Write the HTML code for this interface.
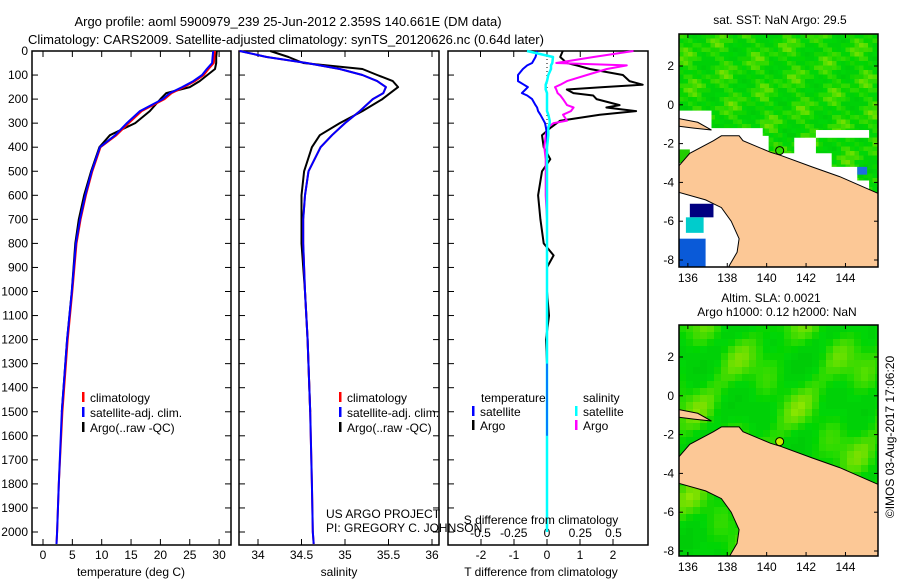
<!DOCTYPE html>
<html><head><meta charset="utf-8">
<style>
html,body{margin:0;padding:0;background:#fff;}
svg{display:block;font-family:"Liberation Sans",sans-serif;}
text{font-size:12px;fill:#000;}
</style></head>
<body>
<svg id="fig" width="900" height="580" viewBox="0 0 900 580" xmlns="http://www.w3.org/2000/svg">
<text x="288" y="26" text-anchor="middle" style="font-size:13px">Argo profile: aoml 5900979_239 25-Jun-2012 2.359S 140.661E (DM data)</text>
<text x="286" y="44" text-anchor="middle" style="font-size:13px">Climatology: CARS2009. Satellite-adjusted climatology: synTS_20120626.nc (0.64d later)</text>
<g id="g"></g>
</svg>
<script>
// ---- data ----
const depths = [0,25,50,75,100,125,150,175,200,250,300,350,400,500,600,700,800,1000,1200,1500,1800,2000,2050];
const tempClim = [29.3,29.2,29.1,28.2,27.4,25.9,24.0,21.9,20.7,16.8,14.6,12.5,9.8,8.4,7.3,6.4,5.7,5.0,4.2,3.3,2.7,2.4,2.3];
const tempSat  = [29.0,28.9,28.8,27.9,27.1,25.6,23.7,21.6,20.4,16.5,14.3,12.3,9.7,8.3,7.2,6.3,5.6,4.9,4.1,3.2,2.7,2.4,2.3];
const tempArgo = [29.6,29.5,29.5,29.3,28.0,26.7,25.0,21.0,20.0,18.2,15.7,11.4,9.6,8.2,7.0,6.1,5.5,4.9,4.1,3.2];
const salClim = [33.79,34.1,34.56,34.94,35.2,35.37,35.47,35.44,35.32,35.17,35.0,34.85,34.72,34.58,34.54,34.52,34.52,34.54,34.57,34.6,34.62,34.63,34.64];
const salSat  = [33.79,34.1,34.56,34.94,35.2,35.37,35.47,35.44,35.32,35.17,35.0,34.85,34.72,34.58,34.54,34.52,34.52,34.54,34.57,34.6,34.62,34.63,34.64];
const salArgo = [34.14,34.35,34.52,35.2,35.37,35.55,35.61,35.52,35.43,35.2,34.94,34.71,34.62,34.53,34.5,34.5,34.5,34.54,34.57,34.6];
const diffDepths = [0,25,50,60,75,100,125,140,150,160,175,185,200,225,235,250,265,290,300,320,350,400,450,500,600,700,800,850,900,1000,1100,1200,1300];
const tDiffSat  = [-0.3,-0.35,-0.45,-0.6,-0.73,-0.88,-0.88,-0.7,-0.58,-0.65,-0.76,-0.6,-0.45,-0.35,-0.3,-0.27,-0.2,-0.1,-0.06,-0.03,0,0,0,0,0,0,0,0,0,0,0,0,0];
const tDiffArgo = [0.48,0.4,0.6,0.9,1.3,2.3,2.5,2.9,1.7,0.6,0.8,1.4,1.5,2.2,1.8,2.7,1.6,0.4,0.3,0.1,-0.15,-0.1,0.1,-0.15,-0.27,-0.2,-0.1,0.2,0.0,0.0,0.06,-0.03,0.0];
const sDiffSat  = [-0.15,0.045,0.04,0.03,0.03,0.01,0.0,-0.01,-0.01,-0.01,0.0,0.0,0.0,0.0,0.0,0.0,0.01,0.02,0.02,0.01,0.01,0,0,0,0,0,0,0,0,0,0,0,0];
const sDiffArgo = [0.65,0.35,0.07,0.6,0.45,0.3,0.15,0.1,0.06,0.07,0.08,0.1,0.12,0.15,0.2,0.18,0.12,0.15,0.05,0.0,-0.01,-0.02,-0.01,-0.01,-0.01,0.0,0.0,0.0,0.0,0.0,0.0,0.0,0.0];
const depthTicks = [0,100,200,300,400,500,600,700,800,900,1000,1100,1200,1300,1400,1500,1600,1700,1800,1900,2000];
const tempTicks = [0,5,10,15,20,25,30];
const salTicks = [34,34.5,35,35.5,36];
const tdTicks = [-2,-1,0,1,2];
const sdTicks = [-0.5,-0.25,0,0.25,0.5];
const sdTickLabels = ["-0.5","-0.25","0","0.25","0.5"];
const lonTicks = [136,138,140,142,144];
const latTicks = [2,0,-2,-4,-6,-8];

const NS="http://www.w3.org/2000/svg";
const G=document.getElementById('g');
function el(tag,attrs,parent,txt){const e=document.createElementNS(NS,tag);for(const k in attrs)e.setAttribute(k,attrs[k]);if(txt!==undefined)e.textContent=txt;(parent||G).appendChild(e);return e;}

const Y0=51, YS=0.2405;
const yD=d=>Y0+d*YS;
const PT=51,PB=545;
function panel(name){
  const g=el('g',{});
  
  
  return g;
}
function frame(g,x0,x1){
  const r=el('rect',{x:x0,y:PT,width:x1-x0,height:PB-PT,fill:'none',stroke:'#000','stroke-width':1.5},g);
  
  depthTicks.forEach(d=>{
    el('line',{x1:x0,x2:x0+6,y1:yD(d),y2:yD(d),stroke:'#000'},g);
    el('line',{x1:x1-6,x2:x1,y1:yD(d),y2:yD(d),stroke:'#000'},g);
  });
}
function line(g,xs,ys,fx,color,w,name){
  const pts=xs.map((v,i)=>fx(v).toFixed(1)+','+yD(ys[i]).toFixed(1)).join(' ');
  const p=el('polyline',{points:pts,fill:'none',stroke:color,'stroke-width':w,'stroke-linejoin':'round'},g);
  
}
function xticks(g,ticks,labels,fx,ylab){
  ticks.forEach((t,i)=>{
    const x=fx(t);
    el('line',{x1:x,x2:x,y1:PB,y2:PB-6,stroke:'#000'},g);
    el('line',{x1:x,x2:x,y1:PT,y2:PT+6,stroke:'#000'},g);
    const tx=el('text',{x:x,y:ylab,'text-anchor':'middle'},g,labels[i]);
    
  });
}
function legend(g,x,y,color,label){
  el('rect',{x:x,y:y-6,width:2.5,height:10,fill:color},g);
  const t=el('text',{x:x+8,y:y+4},g,label);
  
}

depthTicks.forEach(d=>{
  const t=el('text',{x:28,y:yD(d)+4,'text-anchor':'end'},G,String(d));
  
});

{const x0=32,x1=231;const fx=t=>43+t*5.87;
 const g=panel('temperature-panel');frame(g,x0,x1);
 xticks(g,tempTicks,tempTicks.map(String),fx,559);
 line(g,tempArgo,depths.slice(0,tempArgo.length),fx,'#000',2,'argo-temperature-line');
 line(g,tempClim,depths,fx,'#f00',2,'climatology-temperature-line');
 line(g,tempSat,depths,fx,'#00f',2,'satellite-temperature-line');
 const tt=el('text',{x:131,y:576,'text-anchor':'middle'},g,'temperature (deg C)');
 
 legend(g,82,398,'#f00','climatology');legend(g,82,413,'#00f','satellite-adj. clim.');legend(g,82,428,'#000','Argo(..raw -QC)');
}
{const x0=239,x1=439;const fx=s=>258+(s-34)*87;
 const g=panel('salinity-panel');frame(g,x0,x1);
 xticks(g,salTicks,salTicks.map(String),fx,559);
 line(g,salArgo,depths.slice(0,salArgo.length),fx,'#000',2,'argo-salinity-line');
 line(g,salClim,depths,fx,'#f00',2,'climatology-salinity-line');
 line(g,salSat,depths,fx,'#00f',2,'satellite-salinity-line');
 const tt=el('text',{x:339,y:576,'text-anchor':'middle'},g,'salinity');
 
 legend(g,339,398,'#f00','climatology');legend(g,339,413,'#00f','satellite-adj. clim.');legend(g,339,428,'#000','Argo(..raw -QC)');
 const a=el('text',{x:326,y:518},g,'US ARGO PROJECT');
 const b=el('text',{x:326,y:532},g,'PI: GREGORY C. JOHNSON');
}
{const x0=448,x1=648;const ft=v=>547+v*33;const fs=v=>547+v*133;
 const g=panel('difference-panel');
 const r=el('rect',{x:x0,y:PT,width:x1-x0,height:PB-PT,fill:'none',stroke:'#000','stroke-width':1.5},g);
 
 depthTicks.forEach(d=>{el('line',{x1:x0,x2:x0+6,y1:yD(d),y2:yD(d),stroke:'#000'},g);});
 tdTicks.forEach(t=>{const x=ft(t);el('line',{x1:x,x2:x,y1:PB,y2:PB-6,stroke:'#000'},g);
   const tx=el('text',{x:x,y:559,'text-anchor':'middle'},g,String(t));});
 sdTicks.forEach((t,i)=>{const x=fs(t);el('line',{x1:x,x2:x,y1:PT,y2:PT+6,stroke:'#000'},g);
   const tx=el('text',{x:x,y:537,'text-anchor':'middle'},g,sdTickLabels[i]);});
 el('line',{x1:547,x2:547,y1:PT,y2:yD(350),stroke:'#000','stroke-dasharray':'1,3'},g);
 line(g,tDiffArgo,diffDepths,ft,'#000',2,'argo-temperature-diff-line');
 line(g,sDiffArgo,diffDepths,fs,'#f0f',2,'argo-salinity-diff-line');
 line(g,tDiffSat,diffDepths,ft,'#00f',2,'satellite-temperature-diff-line');
 line(g,sDiffSat.concat([0,0]),diffDepths.concat([1600,2000]),fs,'#0ff',2.5,'satellite-salinity-diff-line');
 line(g,[0,0],[1300,1600],ft,'#00f',1,'satellite-temperature-diff-deep');
 const s1=el('text',{x:541,y:524,'text-anchor':'middle'},g,'S difference from climatology');
 const s2=el('text',{x:541,y:576,'text-anchor':'middle'},g,'T difference from climatology');
 const l1=el('text',{x:481,y:402},g,'temperature');
 const l2=el('text',{x:583,y:402},g,'salinity');
 legend(g,472,412,'#00f','satellite');legend(g,472,426,'#000','Argo');
 legend(g,575,412,'#0ff','satellite');legend(g,575,426,'#f0f','Argo');
}

// ---- maps ----
const LON0=135.55, LONS=19.7, LAT_TOP=3.65, LATS=19.4;
function mapXY(top){return [lo=>679+(lo-LON0)*LONS, la=>top+(LAT_TOP-la)*LATS];}
const landPoly=[[135.5,-3.2],[136.1,-2.5],[137.3,-1.85],[137.7,-1.6],[138.6,-1.6],[138.8,-1.85],[140.2,-2.45],[140.7,-2.6],[142.3,-3.2],[143.7,-3.7],[145.5,-4.5],[146,-4.7],[146,-9],[138.0,-9],[138.1,-8.3],[138.5,-7.6],[138.6,-6.9],[138.2,-6.0],[137.7,-5.3],[136.9,-4.9],[135.5,-4.5]];
function drawMap(name,top,bottom,sst){
  const [fx,fy]=mapXY(top);
  const g=el('g',{});
  const cid='clip'+top;
  const cp=el('clipPath',{id:cid},g);el('rect',{x:679,y:top,width:199,height:bottom-top},cp);
  const inner=el('g',{'clip-path':'url(#'+cid+')'},g);
  el('rect',{x:679,y:top,width:199,height:bottom-top,fill:'#fff'},inner);
  const cs=sst?4.5:7;
  const gp=[];
  for(let y=top;y<bottom;y+=cs)for(let x=679;x<878;x+=cs){
    let v;
    if(sst){v=0.45+0.3*Math.sin(x*0.13+y*0.07)*Math.cos(y*0.11-x*0.05)+0.15*Math.sin(x*1.7+y*2.3);}
    else{v=0.45+0.35*Math.sin(x*0.06+1)*Math.cos(y*0.07)+0.15*Math.sin(x*0.13+y*0.09);}
    v=Math.max(0,Math.min(1,v));
    const hue=Math.round(122-Math.max(0,v-0.35)*65);
    const light=Math.round(40+v*5);
    gp.push(`<rect x="${x}" y="${y}" width="${cs+0.5}" height="${cs+0.5}" fill="hsl(${hue},100%,${light}%)"/>`);
  }
  const cells=el('g',{},inner);cells.innerHTML=gp.join('');
  
  if(sst){
    const nod=[[135.5,-0.3],[137.2,-0.3],[137.2,-1.2],[139.8,-1.2],[139.8,-1.6],[140.1,-1.6],[140.1,-2.5],[141.4,-2.5],[141.4,-1.7],[142.5,-1.7],[142.5,-2.5],[143.3,-2.5],[143.3,-3.2],[144.6,-3.2],[144.6,-3.9],[145.2,-3.9],[145.2,-4.8],[146,-4.8],[146,-9],[135.5,-9]];
    el('polygon',{points:nod.map(p=>fx(p[0])+','+fy(p[1])).join(' '),fill:'#fff'},inner);
    el('rect',{x:fx(142.5),y:fy(-1.3),width:fx(145.2)-fx(142.5),height:fy(-1.7)-fy(-1.3),fill:'#fff'},inner);
    el('rect',{x:fx(135.55),y:fy(-2.3),width:fx(136.1)-fx(135.55),height:fy(-3.0)-fy(-2.3),fill:'#22cc00'},inner);
    el('rect',{x:fx(136.1),y:fy(-5.1),width:fx(137.3)-fx(136.1),height:fy(-5.8)-fy(-5.1),fill:'#000080'},inner);
    el('rect',{x:fx(135.9),y:fy(-5.8),width:fx(136.8)-fx(135.9),height:fy(-6.6)-fy(-5.8),fill:'#00cccc'},inner);
    el('rect',{x:fx(135.55),y:fy(-6.9),width:fx(136.9)-fx(135.55),height:fy(-8.4)-fy(-6.9),fill:'#0a5ad8'},inner);
    el('rect',{x:fx(144.6),y:fy(-3.2),width:fx(145.1)-fx(144.6),height:fy(-3.6)-fy(-3.2),fill:'#1e6ee0'},inner);
  }
  const land=el('polygon',{points:landPoly.map(p=>fx(p[0]).toFixed(1)+','+fy(p[1]).toFixed(1)).join(' '),fill:'#fcc896',stroke:'#000','stroke-width':1},inner);
  
  el('polygon',{points:[[135.5,-0.7],[136.5,-0.9],[137.2,-1.3],[136.3,-1.2],[135.5,-1.1]].map(p=>fx(p[0])+','+fy(p[1])).join(' '),fill:'#fcc896',stroke:'#000'},inner);
  const mk=el('circle',{cx:fx(140.66),cy:fy(-2.36),r:4,fill:sst?'#33dd00':'#ccee00',stroke:'#000'},g);
  
  const fr=el('rect',{x:679,y:top,width:199,height:bottom-top,fill:'none',stroke:'#000','stroke-width':1.5},g);
  
  lonTicks.forEach(l=>{const x=fx(l);el('line',{x1:x,x2:x,y1:top,y2:top+4,stroke:'#000'},g);el('line',{x1:x,x2:x,y1:bottom,y2:bottom-4,stroke:'#000'},g);
    const t=el('text',{x:x,y:bottom+15,'text-anchor':'middle'},g,String(l));});
  latTicks.forEach(l=>{const y=fy(l);el('line',{x1:679,x2:683,y1:y,y2:y,stroke:'#000'},g);el('line',{x1:874,x2:878,y1:y,y2:y,stroke:'#000'},g);
    const t=el('text',{x:674,y:y+4,'text-anchor':'end'},g,String(l));});
}
drawMap('sst-map',34,267,true);
drawMap('sla-map',325,556,false);
[['sat. SST: NaN Argo: 29.5',780,24,'sst-map-title'],['Altim. SLA: 0.0021',771,302,'sla-map-title-1'],['Argo h1000: 0.12 h2000: NaN',777,316,'sla-map-title-2']].forEach(a=>{
  const t=el('text',{x:a[1],y:a[2],'text-anchor':'middle'},G,a[0]);});
const cr=el('text',{x:0,y:0,'text-anchor':'middle',transform:'translate(894,437) rotate(-90)'},G,'©IMOS 03-Aug-2017 17:06:20');

</script>
</body></html>
